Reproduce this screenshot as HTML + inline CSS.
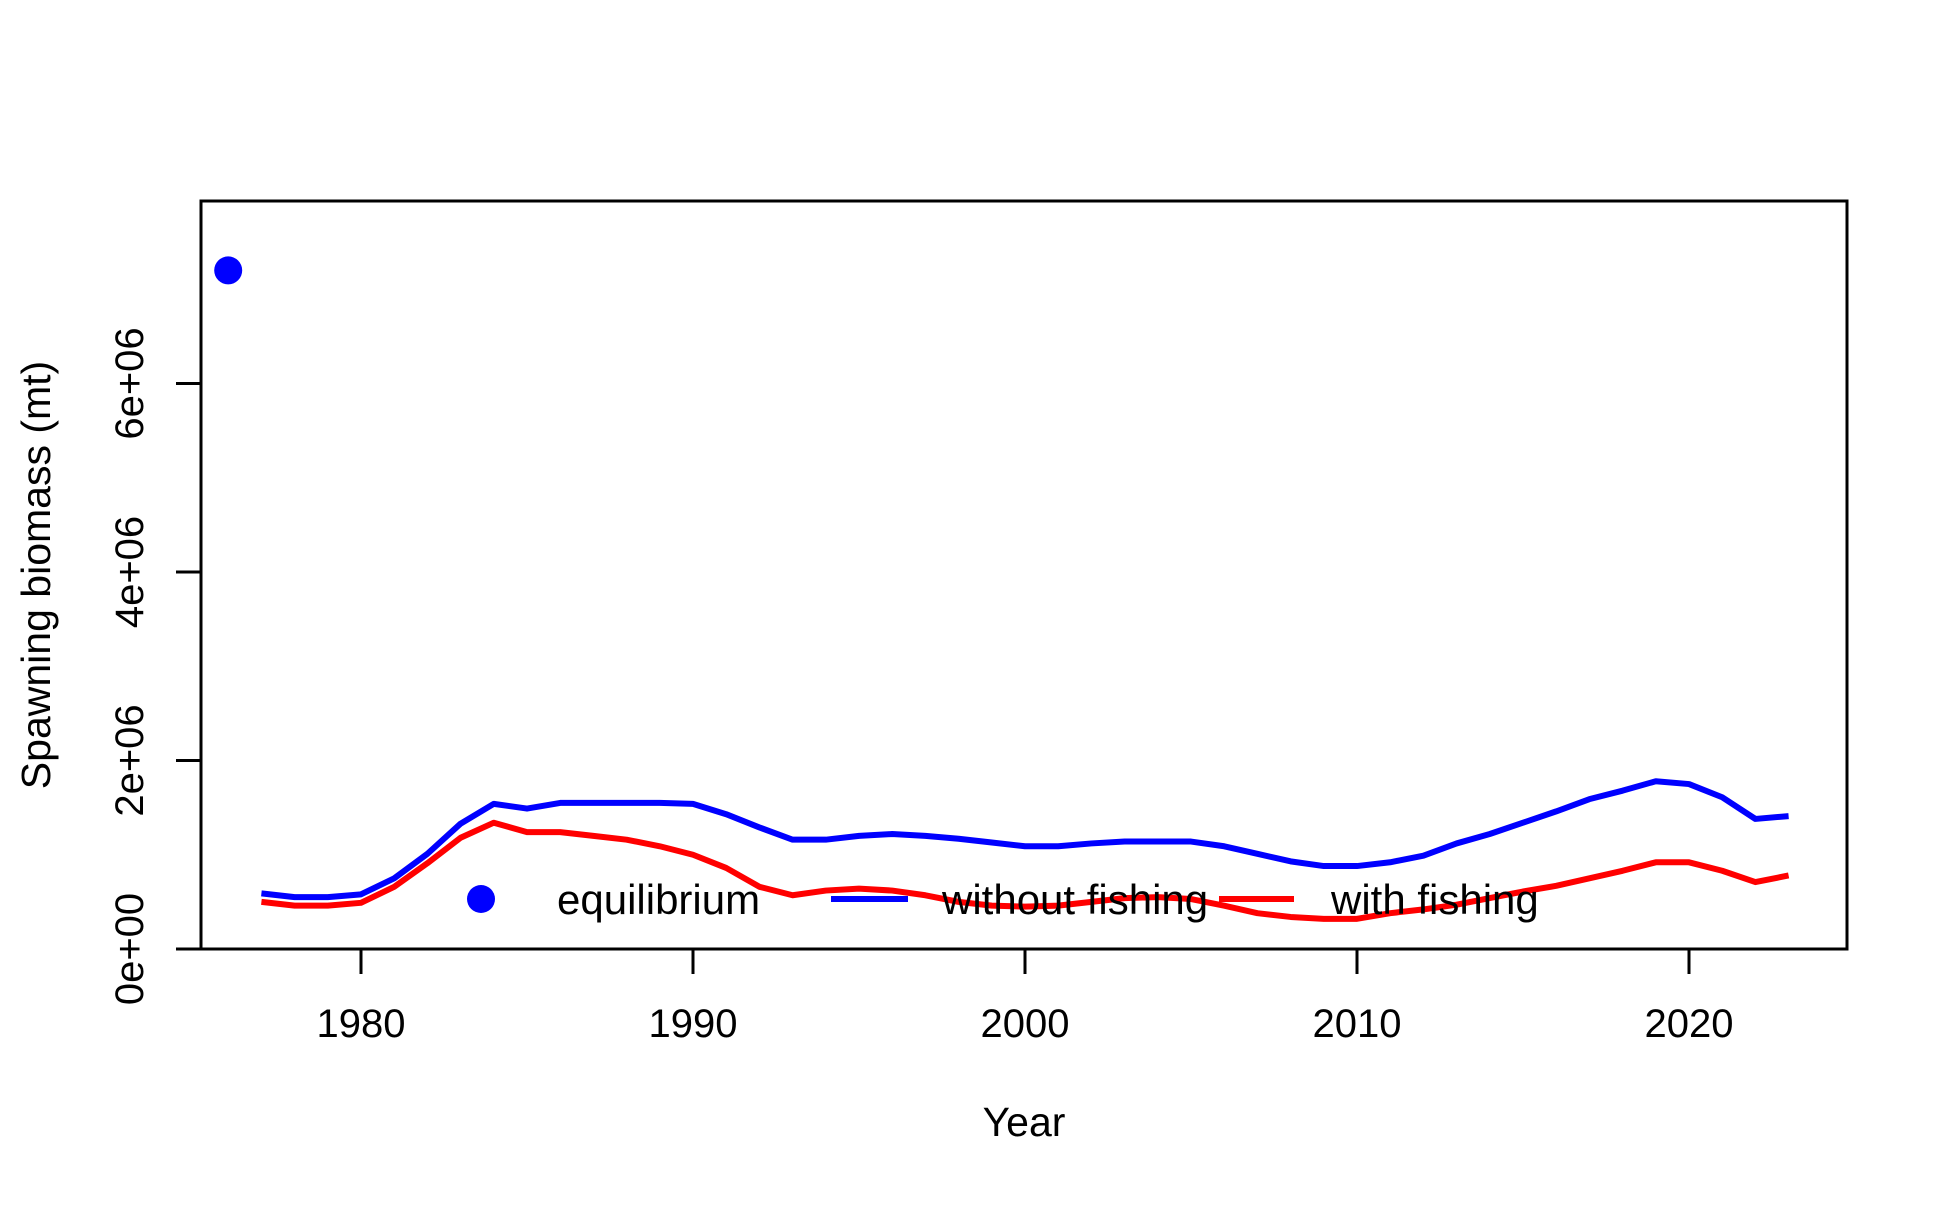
<!DOCTYPE html>
<html><head><meta charset="utf-8"><style>
html,body{margin:0;padding:0;background:#fff;}
svg text{font-family:"Liberation Sans",Arial,sans-serif;fill:#000;}
</style></head><body>
<svg id="chart" width="1950" height="1200" viewBox="0 0 1950 1200" xmlns="http://www.w3.org/2000/svg">
<rect x="0" y="0" width="1950" height="1200" fill="#fff"/>
<g id="marks"></g>
<rect x="201" y="201" width="1646" height="748" fill="none" stroke="#000" stroke-width="3"/>
<g id="axes"></g>
<text x="1024" y="1136" font-size="41" text-anchor="middle">Year</text>
<text transform="translate(50,575) rotate(-90)" font-size="41" text-anchor="middle">Spawning biomass (mt)</text>
<g>
  <circle cx="481" cy="899" r="14" fill="#0000ff"/>
  <text x="557" y="914" font-size="42">equilibrium</text>
  <line x1="831" y1="899" x2="908" y2="899" stroke="#0000ff" stroke-width="6"/>
  <text x="942" y="914" font-size="42">without fishing</text>
  <line x1="1219" y1="899" x2="1294" y2="899" stroke="#ff0000" stroke-width="6"/>
  <text x="1331" y="914" font-size="42">with fishing</text>
</g>
</svg>
<script>
const years = [];
for (let y = 1977; y <= 2023; y++) years.push(y);
const withoutFishing = [0.59,0.55,0.55,0.58,0.75,1.01,1.33,1.54,1.49,1.55,1.55,1.55,1.55,1.54,1.43,1.29,1.16,1.16,1.20,1.22,1.20,1.17,1.13,1.09,1.09,1.12,1.14,1.14,1.14,1.09,1.01,0.93,0.88,0.88,0.92,0.99,1.12,1.22,1.34,1.46,1.59,1.68,1.78,1.75,1.61,1.38,1.41];
const withFishing = [0.50,0.46,0.46,0.49,0.66,0.91,1.18,1.34,1.24,1.24,1.20,1.16,1.09,1.00,0.86,0.66,0.57,0.62,0.64,0.62,0.57,0.50,0.46,0.45,0.46,0.50,0.54,0.55,0.53,0.46,0.38,0.34,0.32,0.32,0.38,0.42,0.47,0.54,0.61,0.67,0.75,0.83,0.92,0.92,0.83,0.71,0.78];
const equilibriumYear = [1976];
const equilibriumValue = [7.2];
const xTicks = [1980,1990,2000,2010,2020];
const yTicks = [0,2,4,6];
const yTickLabels = ["0e+00","2e+06","4e+06","6e+06"];

const NS = "http://www.w3.org/2000/svg";
function xs(yr){ return 361 + (yr - 1980) * 33.2; }
function ys(v){ return 949 - v / 2 * 188.5; }
const marks = document.getElementById('marks');
const axes = document.getElementById('axes');

function line(vals, color, name){
  const p = document.createElementNS(NS,'polyline');
  p.setAttribute('points', vals.map((v,i)=>xs(years[i])+','+ys(v)).join(' '));
  p.setAttribute('fill','none');
  p.setAttribute('stroke',color);
  p.setAttribute('stroke-width','6');
  p.setAttribute('stroke-linejoin','round');
  
  
  marks.appendChild(p);
}
line(withoutFishing,'#0000ff','without-fishing-line');
line(withFishing,'#ff0000','with-fishing-line');
equilibriumYear.forEach((yr,i)=>{
  const c = document.createElementNS(NS,'circle');
  c.setAttribute('cx', xs(yr)); c.setAttribute('cy', ys(equilibriumValue[i]));
  c.setAttribute('r','14'); c.setAttribute('fill','#0000ff');
  
  
  marks.appendChild(c);
});
xTicks.forEach(t=>{
  const l = document.createElementNS(NS,'line');
  l.setAttribute('x1',xs(t)); l.setAttribute('x2',xs(t));
  l.setAttribute('y1',949); l.setAttribute('y2',974);
  l.setAttribute('stroke','#000'); l.setAttribute('stroke-width','3');
  
  
  axes.appendChild(l);
  const tx = document.createElementNS(NS,'text');
  tx.setAttribute('x',xs(t)); tx.setAttribute('y',1037);
  tx.setAttribute('font-size','40'); tx.setAttribute('text-anchor','middle');
  tx.textContent = t;
  
  
  axes.appendChild(tx);
});
yTicks.forEach((t,i)=>{
  const l = document.createElementNS(NS,'line');
  l.setAttribute('x1',176); l.setAttribute('x2',201);
  l.setAttribute('y1',ys(t)); l.setAttribute('y2',ys(t));
  l.setAttribute('stroke','#000'); l.setAttribute('stroke-width','3');
  
  
  axes.appendChild(l);
  const tx = document.createElementNS(NS,'text');
  tx.setAttribute('transform','translate(143,'+ys(t)+') rotate(-90)');
  tx.setAttribute('font-size','40'); tx.setAttribute('text-anchor','middle');
  tx.textContent = yTickLabels[i];
  
  
  axes.appendChild(tx);
});
</script>
</body></html>
